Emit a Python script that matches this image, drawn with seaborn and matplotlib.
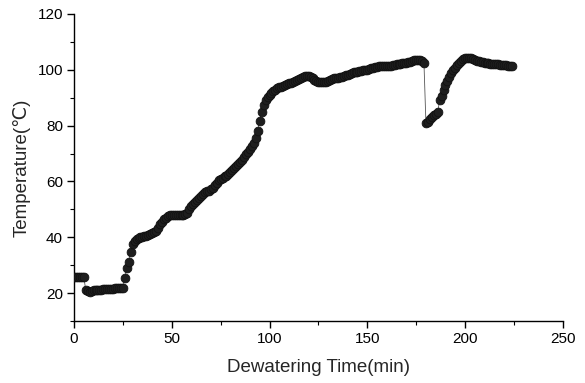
import numpy as np
import pandas as pd
import matplotlib
matplotlib.use("Agg")
import matplotlib.pyplot as plt
from matplotlib.ticker import MultipleLocator
import seaborn as sns

# Sampling times (min), one reading per minute
time_min = list(range(0, 225))

# Temperature readings (°C)
temperature = [
    25.8, 25.8, 25.7, 25.8, 25.7, 25.6, 21.2, 20.6, 20.5, 20.8,
    21.0, 21.1, 21.1, 21.2, 21.2, 21.3, 21.4, 21.4, 21.5, 21.6,
    21.6, 21.7, 21.8, 21.8, 21.8, 21.9, 25.5, 28.8, 31.0, 34.6,
    37.5, 38.8, 39.3, 39.7, 40.0, 40.2, 40.4, 40.6, 40.9, 41.2,
    41.4, 41.8, 42.4, 43.4, 44.6, 45.6, 46.4, 47.0, 47.5, 47.8,
    48.0, 48.0, 48.1, 48.0, 48.1, 48.1, 48.0, 48.2, 48.8, 50.0,
    51.2, 52.0, 52.8, 53.4, 54.2, 54.8, 55.6, 56.2, 56.5, 56.7,
    57.2, 57.8, 58.6, 59.6, 60.4, 61.0, 61.4, 61.8, 62.1, 62.6,
    63.3, 64.0, 64.9, 65.7, 66.4, 67.0, 67.8, 68.8, 69.8, 70.6,
    71.5, 72.6, 73.8, 75.6, 78.2, 81.8, 85.0, 87.4, 89.0, 90.2,
    91.1, 91.8, 92.4, 92.9, 93.3, 93.7, 94.0, 94.3, 94.5, 94.8,
    95.2, 95.4, 95.7, 95.9, 96.2, 96.6, 96.9, 97.3, 97.7, 97.9,
    97.8, 97.4, 96.9, 96.4, 96.0, 95.7, 95.6, 95.5, 95.6, 95.8,
    96.1, 96.3, 96.6, 96.9, 97.1, 97.2, 97.3, 97.5, 97.8, 98.0,
    98.3, 98.6, 98.9, 99.1, 99.1, 99.2, 99.5, 99.7, 99.9, 100.0,
    100.1, 100.2, 100.5, 100.8, 101.0, 101.1, 101.3, 101.4, 101.4, 101.5,
    101.5, 101.4, 101.5, 101.7, 101.8, 101.9, 102.0, 102.2, 102.3, 102.4,
    102.6, 102.7, 102.9, 103.2, 103.4, 103.5, 103.5, 103.4, 103.3, 102.5,
    81.0, 81.4, 82.2, 83.0, 83.8, 84.3, 84.8, 89.0, 90.6, 92.8,
    94.6, 96.0, 97.4, 98.7, 99.8, 100.8, 101.7, 102.5, 103.3, 103.9,
    104.3, 104.4, 104.3, 104.1, 103.8, 103.6, 103.3, 103.1, 102.9, 102.7,
    102.6, 102.4, 102.3, 102.2, 102.1, 102.0, 101.9, 101.9, 101.8, 101.8,
    101.7, 101.6, 101.5, 101.5, 101.4,
]

x_ticks = [0, 50, 100, 150, 200, 250]
y_ticks = [20, 40, 60, 80, 100, 120]
x_label = "Dewatering Time(min)"
y_label = "Temperature(\u2103)"

df = pd.DataFrame({"t": time_min, "T": temperature})

sns.set_theme(style="ticks")
plt.rcParams["font.family"] = ["Liberation Sans", "DejaVu Sans"]

fig = plt.figure(figsize=(5.85, 3.83), dpi=100)
ax = fig.add_axes([0.1265, 0.162, 0.8355, 0.8015])

sns.lineplot(data=df, x="t", y="T", ax=ax, color="#555555", linewidth=0.6,
             marker="o", markersize=6.3, markerfacecolor="#1e1e1e",
             markeredgecolor="#111111", markeredgewidth=0.6, zorder=3)

ax.set_xlim(0, 250)
ax.set_ylim(10, 120)
ax.set_xticks(x_ticks)
ax.set_yticks(y_ticks)
ax.xaxis.set_minor_locator(MultipleLocator(25))
ax.yaxis.set_minor_locator(MultipleLocator(10))
ax.tick_params(axis="both", which="major", direction="out", length=5, width=1,
               labelsize=11, colors="black", pad=3)
ax.tick_params(axis="both", which="minor", direction="out", length=3, width=0.8,
               colors="black")
ax.set_xlabel(x_label, fontsize=13.5, labelpad=9)
ax.set_ylabel(y_label, fontsize=13.5, labelpad=5)
for s in ["top", "right"]:
    ax.spines[s].set_visible(False)
for s in ["left", "bottom"]:
    ax.spines[s].set_linewidth(1)
    ax.spines[s].set_color("black")

fig.savefig("out.png", dpi=100)
